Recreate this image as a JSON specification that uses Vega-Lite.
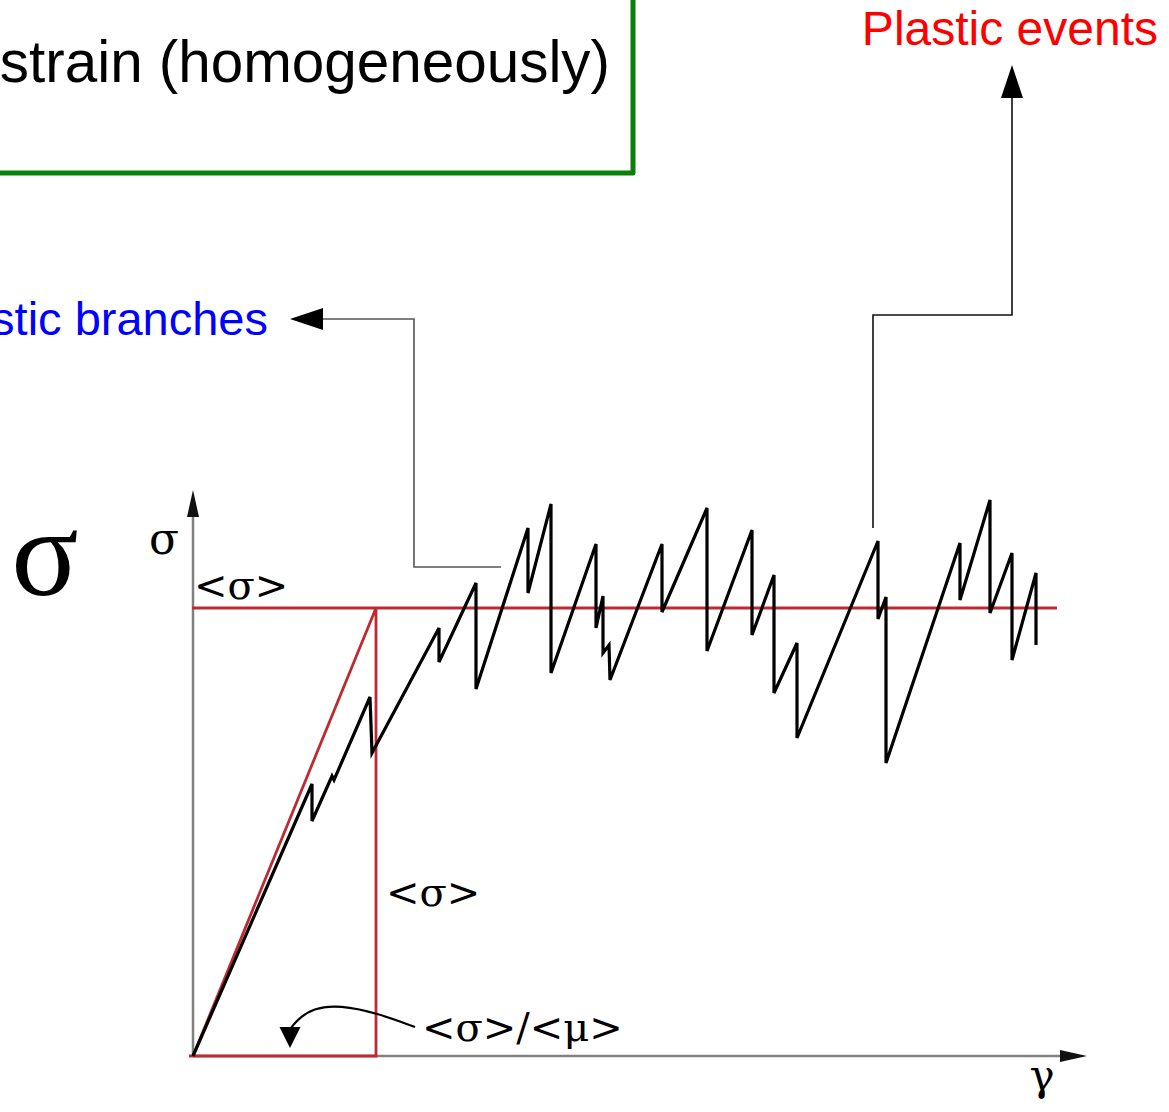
{
  "$schema": "https://vega.github.io/schema/vega-lite/v6.json",
  "width": 1169,
  "height": 1112,
  "autosize": "none",
  "padding": 0,
  "background": "white",
  "config": {"view": {"stroke": null}},
  "datasets": {
    "stress": [
      {"i": 0, "g": 0, "s": 0},
      {"i": 1, "g": 119, "s": 272},
      {"i": 2, "g": 119, "s": 235},
      {"i": 3, "g": 139, "s": 280},
      {"i": 4, "g": 141, "s": 276},
      {"i": 5, "g": 177, "s": 359},
      {"i": 6, "g": 179, "s": 303},
      {"i": 7, "g": 246, "s": 428},
      {"i": 8, "g": 246, "s": 394},
      {"i": 9, "g": 283, "s": 473},
      {"i": 10, "g": 283, "s": 367},
      {"i": 11, "g": 335, "s": 528},
      {"i": 12, "g": 335, "s": 463},
      {"i": 13, "g": 358, "s": 552},
      {"i": 14, "g": 358, "s": 383},
      {"i": 15, "g": 403, "s": 512},
      {"i": 16, "g": 403, "s": 428},
      {"i": 17, "g": 410, "s": 460},
      {"i": 18, "g": 410, "s": 403},
      {"i": 19, "g": 416, "s": 411},
      {"i": 20, "g": 417, "s": 376},
      {"i": 21, "g": 469, "s": 512},
      {"i": 22, "g": 469, "s": 444},
      {"i": 23, "g": 514, "s": 548},
      {"i": 24, "g": 514, "s": 405},
      {"i": 25, "g": 559, "s": 526},
      {"i": 26, "g": 559, "s": 421},
      {"i": 27, "g": 581, "s": 481},
      {"i": 28, "g": 581, "s": 363},
      {"i": 29, "g": 604, "s": 413},
      {"i": 30, "g": 604, "s": 318},
      {"i": 31, "g": 685, "s": 515},
      {"i": 32, "g": 685, "s": 437},
      {"i": 33, "g": 693, "s": 459},
      {"i": 34, "g": 693, "s": 293},
      {"i": 35, "g": 767, "s": 513},
      {"i": 36, "g": 767, "s": 456},
      {"i": 37, "g": 797, "s": 556},
      {"i": 38, "g": 797, "s": 443},
      {"i": 39, "g": 819, "s": 503},
      {"i": 40, "g": 819, "s": 396},
      {"i": 41, "g": 843, "s": 483},
      {"i": 42, "g": 843, "s": 411}
    ],
    "mean": [
      {"path": "level", "i": 0, "g": -1, "s": 448},
      {"path": "level", "i": 1, "g": 864, "s": 448},
      {"path": "elastic", "i": 0, "g": 0, "s": 0},
      {"path": "elastic", "i": 1, "g": 183, "s": 448},
      {"path": "elastic", "i": 2, "g": 183, "s": 0},
      {"path": "elastic", "i": 3, "g": -4, "s": 0}
    ],
    "axes": [
      {"path": "sigma", "i": 0, "g": 0, "s": 0},
      {"path": "sigma", "i": 1, "g": 0, "s": 541},
      {"path": "gamma", "i": 0, "g": 0, "s": 0},
      {"path": "gamma", "i": 1, "g": 869, "s": 0}
    ],
    "leaders": [
      {"path": "elastic", "i": 0, "g": 128, "s": 737},
      {"path": "elastic", "i": 1, "g": 221, "s": 737},
      {"path": "elastic", "i": 2, "g": 221, "s": 489},
      {"path": "elastic", "i": 3, "g": 308, "s": 489},
      {"path": "plastic", "i": 0, "g": 819, "s": 960},
      {"path": "plastic", "i": 1, "g": 819, "s": 741},
      {"path": "plastic", "i": 2, "g": 680, "s": 741},
      {"path": "plastic", "i": 3, "g": 680, "s": 528}
    ],
    "frame": [
      {"i": 0, "g": -260, "s": 883},
      {"i": 1, "g": 440, "s": 883},
      {"i": 2, "g": 440, "s": 1110}
    ],
    "curve": [
      {"i": 0, "g": 222, "s": 29},
      {"i": 1, "g": 184, "s": 43},
      {"i": 2, "g": 147, "s": 51},
      {"i": 3, "g": 120, "s": 48},
      {"i": 4, "g": 104, "s": 36},
      {"i": 5, "g": 98, "s": 28}
    ],
    "heads": [
      {"head": "plastic", "g": 819, "s": 974.5},
      {"head": "elastic", "g": 113.5, "s": 737},
      {"head": "sigma", "g": 0, "s": 552.5},
      {"head": "gamma", "g": 880.5, "s": 0},
      {"head": "ratio", "g": 97, "s": 18.5}
    ],
    "labels": [
      {"id": "box", "g": 417, "s": 974, "t": "strain (homogeneously)"},
      {"id": "plastic", "g": 965, "s": 1011, "t": "Plastic events"},
      {"id": "elastic", "g": 75, "s": 721, "t": "Elastic branches"},
      {"id": "bigsigma", "g": -148, "s": 461, "t": "σ"},
      {"id": "sigma", "g": -29, "s": 502, "t": "σ"},
      {"id": "mean", "g": 1, "s": 457, "t": "<σ>"},
      {"id": "mean", "g": 193, "s": 150, "t": "<σ>"},
      {"id": "mean", "g": 229, "s": 15, "t": "<σ>/<μ>"},
      {"id": "gamma", "g": 849, "s": -34, "t": "γ"}
    ]
  },
  "encoding": {
    "x": {"field": "g", "type": "quantitative", "scale": {"domain": [-193, 976], "nice": false, "zero": false}, "axis": null},
    "y": {"field": "s", "type": "quantitative", "scale": {"domain": [-56, 1056], "nice": false, "zero": false}, "axis": null}
  },
  "layer": [
    {
      "data": {"name": "frame"},
      "mark": {"type": "line", "color": "#0a800a", "strokeWidth": 5, "strokeJoin": "round", "clip": true},
      "encoding": {"order": {"field": "i"}}
    },
    {
      "data": {"name": "axes"},
      "mark": {"type": "line", "color": "#808080", "strokeWidth": 2.5},
      "encoding": {"detail": {"field": "path"}, "order": {"field": "i"}}
    },
    {
      "data": {"name": "leaders"},
      "transform": [{"filter": "datum.path === 'elastic'"}],
      "mark": {"type": "line", "color": "#555555", "strokeWidth": 1.6},
      "encoding": {"order": {"field": "i"}}
    },
    {
      "data": {"name": "leaders"},
      "transform": [{"filter": "datum.path === 'plastic'"}],
      "mark": {"type": "line", "color": "#111111", "strokeWidth": 1.6},
      "encoding": {"order": {"field": "i"}}
    },
    {
      "data": {"name": "mean"},
      "mark": {"type": "line", "color": "#bf2a30", "strokeWidth": 2.8, "strokeJoin": "miter"},
      "encoding": {"detail": {"field": "path"}, "order": {"field": "i"}}
    },
    {
      "data": {"name": "stress"},
      "mark": {"type": "line", "color": "#000000", "strokeWidth": 3.2, "strokeJoin": "miter"},
      "encoding": {"order": {"field": "i"}}
    },
    {
      "data": {"name": "curve"},
      "mark": {"type": "line", "color": "#000000", "strokeWidth": 2.2, "interpolate": "basis"},
      "encoding": {"order": {"field": "i"}}
    },
    {
      "data": {"name": "heads"},
      "transform": [{"filter": "datum.head === 'plastic'"}],
      "mark": {"type": "point", "shape": "M0,-1L0.667,1L-0.667,1Z", "size": 1089, "filled": true, "color": "#000000", "opacity": 1}
    },
    {
      "data": {"name": "heads"},
      "transform": [{"filter": "datum.head === 'elastic'"}],
      "mark": {"type": "point", "shape": "M-1,0L1,-0.667L1,0.667Z", "size": 1089, "filled": true, "color": "#000000", "opacity": 1}
    },
    {
      "data": {"name": "heads"},
      "transform": [{"filter": "datum.head === 'sigma'"}],
      "mark": {"type": "point", "shape": "M0,-1L0.444,1L-0.444,1Z", "size": 729, "filled": true, "color": "#111111", "opacity": 1}
    },
    {
      "data": {"name": "heads"},
      "transform": [{"filter": "datum.head === 'gamma'"}],
      "mark": {"type": "point", "shape": "M1,0L-1,-0.444L-1,0.444Z", "size": 729, "filled": true, "color": "#111111", "opacity": 1}
    },
    {
      "data": {"name": "heads"},
      "transform": [{"filter": "datum.head === 'ratio'"}],
      "mark": {"type": "point", "shape": "M0,1L1,-1L-1,-1Z", "size": 441, "filled": true, "color": "#000000", "opacity": 1}
    },
    {
      "data": {"name": "labels"},
      "transform": [{"filter": "datum.id === 'box'"}],
      "mark": {"type": "text", "font": "Liberation Sans", "fontSize": 58.4, "align": "right", "baseline": "alphabetic", "color": "#000000", "clip": true},
      "encoding": {"text": {"field": "t"}}
    },
    {
      "data": {"name": "labels"},
      "transform": [{"filter": "datum.id === 'plastic'"}],
      "mark": {"type": "text", "font": "Liberation Sans", "fontSize": 48, "align": "right", "baseline": "alphabetic", "color": "#ff0000"},
      "encoding": {"text": {"field": "t"}}
    },
    {
      "data": {"name": "labels"},
      "transform": [{"filter": "datum.id === 'elastic'"}],
      "mark": {"type": "text", "font": "Liberation Sans", "fontSize": 47, "align": "right", "baseline": "alphabetic", "color": "#0000ff", "clip": true},
      "encoding": {"text": {"field": "t"}}
    },
    {
      "data": {"name": "labels"},
      "transform": [{"filter": "datum.id === 'bigsigma'"}],
      "mark": {"type": "text", "font": "Liberation Serif", "fontSize": 125, "align": "center", "baseline": "alphabetic", "color": "#000000"},
      "encoding": {"text": {"field": "t"}}
    },
    {
      "data": {"name": "labels"},
      "transform": [{"filter": "datum.id === 'sigma'"}],
      "mark": {"type": "text", "font": "DejaVu Serif", "fontSize": 44, "align": "center", "baseline": "alphabetic", "color": "#000000"},
      "encoding": {"text": {"field": "t"}}
    },
    {
      "data": {"name": "labels"},
      "transform": [{"filter": "datum.id === 'mean'"}],
      "mark": {"type": "text", "font": "DejaVu Serif", "fontSize": 40, "align": "left", "baseline": "alphabetic", "color": "#000000"},
      "encoding": {"text": {"field": "t"}}
    },
    {
      "data": {"name": "labels"},
      "transform": [{"filter": "datum.id === 'gamma'"}],
      "mark": {"type": "text", "font": "DejaVu Serif", "fontSize": 42, "align": "center", "baseline": "alphabetic", "color": "#000000"},
      "encoding": {"text": {"field": "t"}}
    }
  ]
}
